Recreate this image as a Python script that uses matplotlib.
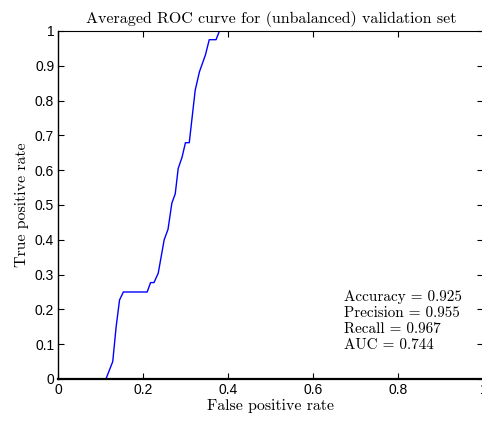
import matplotlib
matplotlib.use("Agg")
import matplotlib.pyplot as plt

fpr = [0.0, 0.112, 0.128, 0.136, 0.144, 0.153, 0.209, 0.217, 0.225, 0.235, 0.249,
       0.258, 0.267, 0.275, 0.282, 0.291, 0.299, 0.308, 0.322, 0.332, 0.346,
       0.355, 0.371, 0.379, 1.0]
tpr = [0.0, 0.0, 0.05, 0.15, 0.227, 0.25, 0.25, 0.277, 0.277, 0.304, 0.40,
       0.43, 0.505, 0.532, 0.605, 0.637, 0.679, 0.679, 0.83, 0.883, 0.931,
       0.975, 0.975, 1.0, 1.0]
stats_labels = ["Accuracy", "Precision", "Recall", "AUC"]
stats_values = [0.925, 0.955, 0.967, 0.744]
xticks = [0, 0.2, 0.4, 0.6, 0.8, 1.0]
xticklabels = ["0", "0.2", "0.4", "0.6", "0.8", "1"]
yticks = [0, 0.1, 0.2, 0.3, 0.4, 0.5, 0.6, 0.7, 0.8, 0.9, 1.0]
yticklabels = ["0", "0.1", "0.2", "0.3", "0.4", "0.5", "0.6", "0.7", "0.8", "0.9", "1"]

plt.rcParams['mathtext.fontset'] = 'cm'
serif = 'cmr10'

fig = plt.figure(figsize=(4.82, 4.21), dpi=100)
ax = fig.add_axes([0.121, 0.0998, 0.882, 0.8266])
ax.plot(fpr, tpr, color='#0000ff', lw=1.0)
ax.set_xlim(0, 1)
ax.set_ylim(0, 1)
ax.set_xticks(xticks)
ax.set_xticklabels(xticklabels, fontfamily='Liberation Sans', fontsize=10)
ax.set_yticks(yticks)
ax.set_yticklabels(yticklabels, fontfamily='Liberation Sans', fontsize=10)
ax.tick_params(direction='in', top=True, right=True, length=4, width=0.8, pad=3)
for s in ax.spines.values():
    s.set_linewidth(0.8)
ax.spines['bottom'].set_linewidth(1.6)
ax.spines['left'].set_linewidth(1.0)

ax.set_title("Averaged ROC curve for (unbalanced) validation set",
             fontfamily=serif, fontsize=11.5, pad=6)
ax.set_xlabel("False positive rate", fontfamily=serif, fontsize=11.4, labelpad=1)
ax.set_ylabel("True positive rate", fontfamily=serif, fontsize=11.4, labelpad=4)

txt = "\n".join(f"{l} = {v:.3f}" for l, v in zip(stats_labels, stats_values))
ax.text(0.672, 0.255, txt, fontfamily=serif, fontsize=10.9, va='top', ha='left',
        linespacing=1.2, transform=ax.transAxes)

fig.savefig("out.png", dpi=100)
